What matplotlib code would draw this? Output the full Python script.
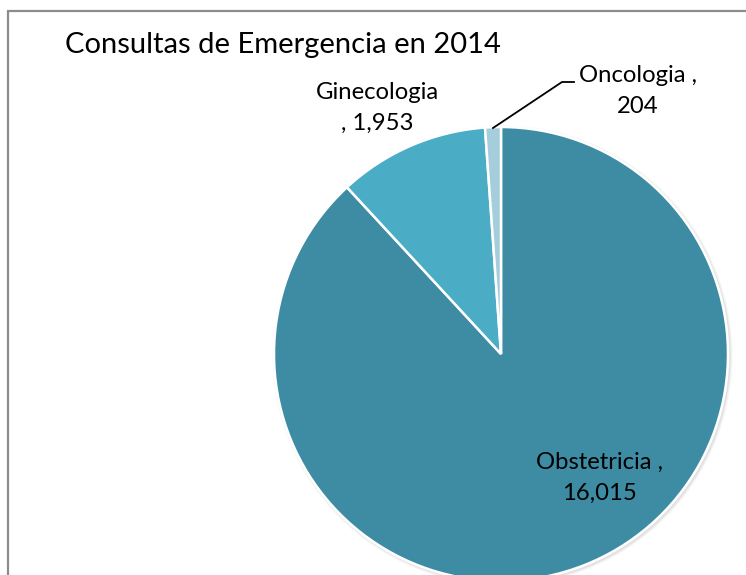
import matplotlib
matplotlib.use("Agg")
import matplotlib.pyplot as plt
from matplotlib.patches import Circle

categories = ["Obstetricia", "Ginecologia", "Oncologia"]
values = [16015, 1953, 204]
colors = ["#3D8CA4", "#4BACC6", "#A5CDDC"]
label_texts = ["Obstetricia ,\n16,015", "Ginecologia\n, 1,953", "Oncologia ,\n204"]

W, H = 746, 575
fig = plt.figure(figsize=(W / 100, H / 100), dpi=100)
ax = fig.add_axes([0, 0, 1, 1])

def py(y):
    return H - y

cx, cy, r = 501, 354, 227
# soft shadow
for i, a in enumerate([0.10, 0.08, 0.06]):
    ax.add_patch(Circle((cx + 1.5, py(cy) - 1.5), r + 1 + i, color="#7f7f7f",
                        alpha=a, lw=0, zorder=2))

wedges, _ = ax.pie(values, colors=colors, startangle=90, counterclock=False,
                   radius=r, center=(cx, py(cy)), frame=True,
                   wedgeprops=dict(edgecolor="white", linewidth=1.8))
for w in wedges:
    w.set_zorder(3)
ax.set_xlim(0, W)
ax.set_ylim(0, H)
ax.set_aspect("equal")
ax.axis("off")

# frame
ax.plot([8, 8, W + 5], [py(H + 5), py(11), py(11)], color="#8C8C8C", lw=1.6,
        solid_joinstyle="miter", zorder=1)

font = "Lato"
ax.text(65, py(53), "Consultas de Emergencia en 2014", fontsize=21,
        family=font, ha="left", va="baseline", color="black", zorder=5)

label_pos = [(599, 478), (377, 108), (638, 91)]
for txt, (lx, ly) in zip(label_texts, label_pos):
    ax.text(lx, py(ly), txt, fontsize=17.2, family=font, ha="center",
            va="center", linespacing=1.55, color="black", zorder=5)

# leader line for Oncologia
ax.plot([493, 562, 574], [py(128), py(82), py(82)], color="black", lw=1.3, zorder=4)

fig.savefig("out.png", dpi=100)
